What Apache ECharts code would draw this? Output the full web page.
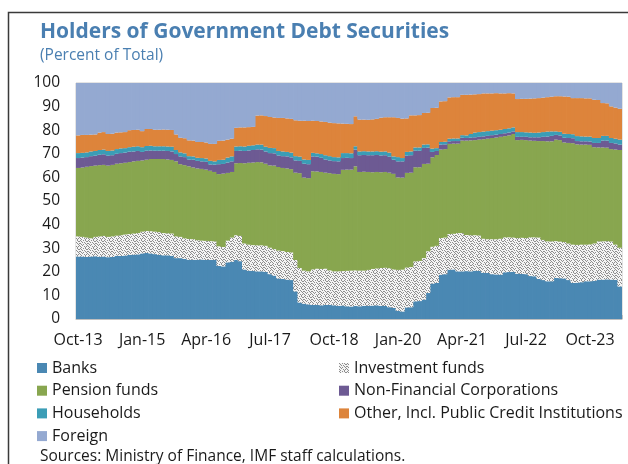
<!DOCTYPE html>
<html><head><meta charset="utf-8">
<script src="https://cdn.jsdelivr.net/npm/echarts@6/dist/echarts.min.js"></script>
<style>html,body{margin:0;padding:0;background:#fff}#c{width:628px;height:464px}</style>
</head><body><div id="c"></div>
<script>
// Monthly shares (percent of total), Oct-13 .. May-24
const banks = [26.5,26.5,26.3,26.5,26.6,26.4,26.5,26.2,26.3,26.8,26.7,26.9,27.2,27.3,27.4,27.8,28,27.8,27.5,27.2,27,27,26.8,25.8,25.8,25.5,25.1,25.1,25.1,25.2,25,25.1,25,22.5,22.3,24,24.3,25,24.5,21,20.5,20.4,20.2,20.2,20,19,18.4,17.2,17,16.7,16.5,11.7,7,6.5,6.2,6,6,5.8,6,6,5.8,5.6,5.7,5.4,5.3,5.5,5.4,5.6,5.6,5.7,5.8,5.6,5.5,5,4.7,3.5,3.2,4.9,5,7.5,7.6,8.2,11,15,15.3,18.8,19,20.9,21,20.2,20.2,20.3,20.2,20.5,20.4,19.6,19.5,19,18.9,18.8,19.8,19.9,20,19.2,19.1,19,18.2,18.1,17,16.5,16,16,17.4,17.3,17.2,16.5,15.3,15.4,15.6,16,16,16.2,16.7,16.7,16.8,16.7,16.6,13.8];
const investmentFunds = [8.5,8.3,8.2,7.7,8.2,8.6,8.7,8.6,8.7,8.5,8.8,8.9,8.8,8.9,9,9.2,9.3,9.4,9.5,9.6,9.4,9.3,9.4,9.2,9,8.7,8.8,8.7,8.3,8,8.1,7.9,7.9,8.3,8.2,9.2,10.2,10.5,10.7,11,11,10.9,11,11,11,11.2,11.2,11.8,11.8,11.7,11.7,13.3,14.6,14,14,15,15.3,15.4,15.3,14.6,14.4,14.6,14.6,15,15.2,15.1,15.1,14.9,15.2,15.5,15.6,16,16.2,16.5,16.3,17.3,17.7,16.9,17,16.9,17,17.6,17.7,15.6,15.7,15.5,15.5,15.1,15.1,16.2,16.2,15.3,15.3,15,15,14.4,14.3,14.8,14.9,15.2,14.8,14.7,14.5,15.1,15.3,15.3,16.4,16.5,17.5,17,16.9,16.9,15.6,15.5,15.4,15.5,16.2,16,15.9,15.5,15.6,15.8,16.2,16.2,16.2,16.1,14.9,16.4];
const pensionFunds = [29,29.4,30,30.6,30.2,30.2,30.1,30.2,30.3,30.5,30.5,30.4,30.5,30.6,30.6,30.2,30.2,30.6,30.8,31,31.4,31.3,31.2,31.8,30.8,31,30.8,30.4,30.4,30.4,30.2,29.8,29.4,30.6,31.1,28.7,27.8,30.5,30.9,34,34.7,35,35.3,35.2,34.8,34.9,35.4,35.4,35.2,35.4,35.3,37,40.2,39.4,39.5,41.6,41.2,41.1,40.7,41.2,41.3,41.2,42.9,42.9,42.8,44.1,41.8,41.9,41.5,41,40.9,40.6,40.6,40.5,40.5,39.2,39,40.1,40,39.9,39.7,39.9,37.1,37.9,38.5,37.5,37.5,38.2,38.2,37.9,39.2,40,40.2,40.3,40.6,42.2,42.6,42.9,43.1,43.2,42.9,43.2,43.9,41.5,41.5,41.5,41,40.9,40.9,41.9,42.4,42.4,43,43,42.2,42.6,43,42.6,42.4,42.4,42.2,40.8,39.8,39.8,39.6,39.2,40.3,41.4];
const nonFinancialCorps = [4.2,4.2,4.1,4.2,4.2,4.4,4.5,4.2,4.1,4.2,4.3,4.3,4.4,4.2,4.2,3.6,3.8,3.6,3.5,3.5,3.5,3.6,3.6,3.1,3.3,3.4,2.9,3.3,3.2,3.2,3.3,2.7,3.1,4.2,4.1,4.4,4.5,5.2,5.2,5.2,5.2,5.3,5.4,5.4,5.2,5.2,5.2,4.9,5,5.1,5,5.2,5.2,5.9,5.9,6.3,6.3,6,5.6,5.4,5.4,5.4,5,5,4.9,7.1,7.1,7.1,7.1,7.2,7.2,7.1,7.1,6.8,6,6.8,6.9,7.3,7.4,7,7,6.8,6.8,2.3,1.7,2.1,2,1.1,1.1,1.1,1.2,1.1,1.1,1.2,1.2,1.2,1.2,1.2,1.2,1.2,1.2,1.2,1.1,1.4,1.3,1.4,1.4,1.5,1.6,1.8,2,2.3,2,2,2,2.1,2.1,1.4,1.4,1.4,1.4,1.8,1.9,2.9,3,2.6,2.6,2.3];
const households = [2.1,2,2,2,2,2,2,2,2,2,2,1.9,1.9,2,2,2,2,2,1.9,1.9,1.9,1.9,2,1.7,1.7,1.6,1.4,1.4,1.3,1.4,1.4,1.5,1.4,1.8,1.8,2.1,2.1,1.9,1.9,1.9,2,2,2,2.1,2,2.2,2.2,1.9,2,1.9,2,1.8,1.8,1.8,1.8,1.5,1.4,1.6,1.8,1.8,1.7,1.7,2.1,2,2,1.4,1.6,1.6,1.6,1.6,1.6,1.6,1.6,1.7,1.4,1.8,1.4,1.6,1.6,1.4,1.4,1.4,1.4,1.4,1.2,1.1,1.1,1.1,1.1,1.1,1.1,1.1,1.6,2,2,2,2,1.9,1.9,1.8,1.8,1.8,1.7,2,2,1.9,2,1.9,2,2,2.1,1.9,1.5,1.5,1.7,1.7,1.7,2.1,2.1,2,2.1,2.1,2.1,2,2,2.1,2,2.1];
const otherInstitutions = [7.5,7.6,7.4,7.1,7,7.4,7.4,7.2,7.1,7,6.8,6.8,7.2,7.1,7,6.8,7.2,7.1,7,7,7.1,7.1,7.1,6.6,6.2,6.4,6.7,6.7,6.7,6.8,6.8,7.2,7.4,8.1,8.1,7.6,7.5,7.9,8,8.1,7.9,7.8,12.3,12.4,13,13.1,13,14,14.2,14.2,14.3,15.2,15.2,16.4,16.5,13.6,13.7,13.8,14.1,14.2,14.4,14.4,12.5,12.4,12.4,12.7,13.5,13.4,13.4,13.6,13.7,14.4,14.5,15,16.6,16.6,16.7,14.2,15.3,13.6,13.7,13.4,13.4,17.2,17.1,17.2,17.2,17.5,17.5,17.5,17.1,17.2,16.7,16.2,16.1,16.2,16,15.8,15.7,15.4,15.1,14.9,14.4,14,14.1,14.2,14.4,14.6,14.6,14.6,14.6,14.7,14.9,15.1,15.8,15.8,15.3,16.1,16.2,16.2,16.2,16.2,16.1,13.9,13.8,13.4,13.2,13.1];
const foreign = [22.2,22,22,21.9,21.8,21,20.8,21.6,21.5,21,20.9,20.8,20,19.9,19.8,20.4,19.5,19.5,19.8,19.8,19.7,19.8,19.9,21.8,23.2,23.4,24.3,24.4,25,25,25.2,25.8,25.8,24.5,24.4,24,23.6,19,18.8,18.8,18.7,18.6,13.8,13.7,14,14.4,14.6,14.8,14.8,15,15.2,15.8,16,16,16.1,16,16.1,16.3,16.5,16.8,17,17.1,17.2,17.3,17.4,14.1,15.5,15.5,15.6,15.4,15.2,14.7,14.5,14.5,14.5,14.8,15.1,15,13.7,13.7,13.6,12.7,12.6,10.6,10.5,7.8,7.7,6.1,6,6,5,5,4.9,4.8,4.7,4.4,4.4,4.4,4.3,4.4,4.4,4.3,4.4,6.8,6.7,6.7,6.6,6.5,6.4,6.2,6,5.8,5.6,5.6,5.7,5.8,6.4,6.4,6.4,6.5,6.5,7.1,7.2,8.5,8.6,9.9,10.4,10.9];

const monthNames = ['Jan','Feb','Mar','Apr','May','Jun','Jul','Aug','Sep','Oct','Nov','Dec'];
const categories = [];
for (let i = 0; i < banks.length; i++) {
  const m = (9 + i) % 12, y = 13 + Math.floor((9 + i) / 12);
  categories.push(monthNames[m] + '-' + String(y).padStart(2, '0'));
}

const seriesNames = ['Banks','Investment funds','Pension funds','Non-Financial Corporations','Households','Other, Incl. Public Credit Institutions','Foreign'];

// stipple pattern for investment funds
const stipple = [
  '10010100',
  '01000011',
  '00101000',
  '10000101',
  '01010010',
  '00100001',
  '10001010',
  '01000100'
];
const pc = document.createElement('canvas'); pc.width = 8; pc.height = 8;
const g = pc.getContext('2d');
g.fillStyle = '#f4f4f4'; g.fillRect(0,0,8,8);
g.fillStyle = '#8e8e8e';
stipple.forEach((row, y) => row.split('').forEach((c, x) => { if (c === '1') g.fillRect(x, y, 1, 1); }));
const pattern = {image: pc, repeat: 'repeat'};

const colors = ['#4a88b3', pattern, '#88a64f', '#6d5a93', '#3b9db6', '#dd843b', '#94a9d1'];
const dataSets = [banks, investmentFunds, pensionFunds, nonFinancialCorps, households, otherInstitutions, foreign];

const FONT = 'Open Sans';
const chart = echarts.init(document.getElementById('c'), null, {renderer: 'canvas'});
chart.setOption({
  animation: false,
  textStyle: {fontFamily: FONT},
  title: [
    {text: 'Holders of Government Debt Securities', left: 40, top: 22, padding: 0,
     textStyle: {fontFamily: FONT, fontSize: 21, fontWeight: 'bold', color: '#4a7fb1'}},
    {text: '(Percent of Total)', left: 40, top: 48, padding: 0,
     textStyle: {fontFamily: FONT, fontSize: 15.5, fontWeight: 'normal', color: '#4a7fb1'}},
    {text: 'Sources: Ministry of Finance, IMF staff calculations.', left: 40, top: 449, padding: 0,
     textStyle: {fontFamily: FONT, fontSize: 15.5, fontWeight: 'normal', color: '#1a1a1a'}}
  ],
  graphic: [{type: 'rect', shape: {x: 8.5, y: 12.5, width: 700, height: 600},
    style: {fill: 'none', stroke: '#3a3a3a', lineWidth: 1.5}, silent: true}],
  legend: [
    {data: ['Banks','Pension funds','Households','Foreign'], left: 37, top: 360, orient: 'vertical',
     itemWidth: 10, itemHeight: 10, itemGap: 6.7, icon: 'rect', padding: 0,
     textStyle: {fontFamily: FONT, fontSize: 16, color: '#1a1a1a', lineHeight: 16}},
    {data: ['Investment funds','Non-Financial Corporations','Other, Incl. Public Credit Institutions'], left: 339, top: 360, orient: 'vertical',
     itemWidth: 10, itemHeight: 10, itemGap: 6.7, icon: 'rect', padding: 0,
     textStyle: {fontFamily: FONT, fontSize: 16, color: '#1a1a1a', lineHeight: 16}}
  ],
  grid: {left: 76, top: 83, width: 546, height: 236, show: true, borderColor: '#c8c8c8', borderWidth: 1, backgroundColor: 'transparent'},
  xAxis: {type: 'category', data: categories, boundaryGap: true,
    axisLine: {lineStyle: {color: '#bfbfbf'}},
    axisTick: {show: true, interval: 14, inside: true, length: 4, lineStyle: {color: '#bfbfbf'}},
    axisLabel: {interval: 14, fontFamily: FONT, fontSize: 16, color: '#1a1a1a', margin: 13}},
  yAxis: {type: 'value', min: 0, max: 100, interval: 10,
    axisLine: {show: false},
    axisTick: {show: true, inside: true, length: 5, lineStyle: {color: '#bfbfbf'}},
    splitLine: {show: false},
    axisLabel: {fontFamily: FONT, fontSize: 15.5, color: '#1a1a1a', margin: 16}},
  series: seriesNames.map((n, i) => ({
    name: n, type: 'bar', stack: 'total', data: dataSets[i],
    barWidth: 5, barGap: '0%', barCategoryGap: '0%',
    itemStyle: {color: colors[i]}, emphasis: {disabled: true}
  }))
});
</script></body></html>
